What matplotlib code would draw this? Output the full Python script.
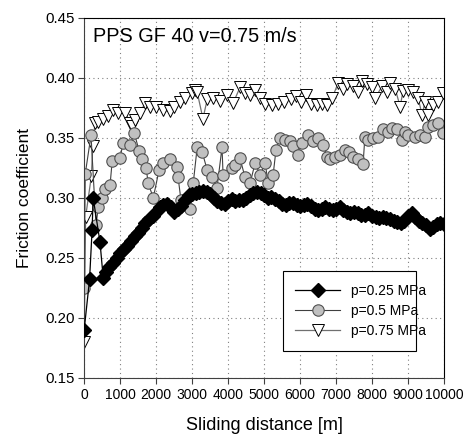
import matplotlib
matplotlib.use("Agg")
import matplotlib.pyplot as plt

plt.rcParams["font.family"] = ["Liberation Sans", "DejaVu Sans"]

# p = 0.25 MPa (black diamonds)
dist_025 = [0, 150, 220, 250, 440, 530, 600, 700, 800, 900, 1000, 1100, 1200, 1300, 1400,
            1500, 1600, 1700, 1800, 1900, 2000, 2100, 2200, 2300, 2400, 2500, 2600, 2700,
            2800, 2900, 3000, 3100, 3200, 3300, 3400, 3500, 3600, 3700, 3800, 3900, 4000,
            4100, 4200, 4300, 4400, 4500, 4600, 4700, 4800, 4900, 5000, 5100, 5200, 5300,
            5400, 5500, 5600, 5700, 5800, 5900, 6000, 6100, 6200, 6300, 6400, 6500, 6600,
            6700, 6800, 6900, 7000, 7100, 7200, 7300, 7400, 7500, 7600, 7700, 7800, 7900,
            8000, 8100, 8200, 8300, 8400, 8500, 8600, 8700, 8800, 8900, 9000, 9100, 9200,
            9300, 9400, 9500, 9600, 9700, 9800, 9900, 10000]
mu_025 = [0.190, 0.232, 0.273, 0.300, 0.263, 0.233, 0.238, 0.242, 0.246, 0.250, 0.254, 0.257,
          0.260, 0.264, 0.268, 0.271, 0.275, 0.279, 0.282, 0.285, 0.288, 0.292, 0.294, 0.295,
          0.292, 0.288, 0.291, 0.293, 0.298, 0.302, 0.303, 0.304, 0.305, 0.306, 0.305, 0.303,
          0.300, 0.297, 0.296, 0.295, 0.297, 0.299, 0.297, 0.298, 0.298, 0.300, 0.302, 0.304,
          0.305, 0.304, 0.302, 0.300, 0.301, 0.299, 0.297, 0.295, 0.294, 0.296, 0.296, 0.294,
          0.293, 0.294, 0.295, 0.293, 0.291, 0.290, 0.291, 0.292, 0.291, 0.290, 0.291, 0.292,
          0.290, 0.288, 0.287, 0.288, 0.287, 0.286, 0.286, 0.287, 0.285, 0.284, 0.283, 0.284,
          0.283, 0.282, 0.281, 0.280, 0.279, 0.281, 0.285, 0.287, 0.284, 0.281, 0.279, 0.277,
          0.274, 0.276, 0.278, 0.279, 0.278]

# p = 0.5 MPa (grey circles)
dist_05 = [0, 30, 190, 330, 390, 500, 580, 720, 780, 1000, 1080, 1280, 1390, 1530, 1610, 1720,
           1780, 1920, 2080, 2190, 2390, 2580, 2610, 2690, 2830, 2940, 3030, 3140, 3280, 3420,
           3560, 3690, 3830, 3860, 4110, 4200, 4330, 4470, 4610, 4750, 4890, 5030, 5110, 5250,
           5330, 5440, 5580, 5720, 5810, 5940, 6060, 6220, 6360, 6500, 6640, 6750, 6830, 6970,
           7110, 7250, 7360, 7470, 7610, 7750, 7800, 7890, 8030, 8170, 8310, 8440, 8560, 8690,
           8830, 8920, 9000, 9190, 9330, 9470, 9560, 9690, 9830, 9970]
mu_05 = [0.225, 0.320, 0.352, 0.277, 0.292, 0.300, 0.307, 0.311, 0.331, 0.333, 0.346, 0.344,
         0.354, 0.339, 0.332, 0.325, 0.312, 0.300, 0.323, 0.329, 0.332, 0.326, 0.317, 0.298,
         0.294, 0.291, 0.312, 0.342, 0.338, 0.323, 0.317, 0.308, 0.342, 0.319, 0.325, 0.327,
         0.333, 0.317, 0.312, 0.329, 0.319, 0.329, 0.312, 0.319, 0.340, 0.350, 0.348, 0.347,
         0.343, 0.336, 0.346, 0.352, 0.347, 0.350, 0.344, 0.334, 0.332, 0.334, 0.336, 0.340,
         0.338, 0.334, 0.332, 0.328, 0.351, 0.348, 0.350, 0.351, 0.357, 0.355, 0.358, 0.357,
         0.348, 0.355, 0.352, 0.351, 0.352, 0.351, 0.359, 0.361, 0.362, 0.354]

# p = 0.75 MPa (white triangles)
dist_075 = [0, 40, 200, 240, 300, 390, 530, 670, 810, 940, 1140, 1280, 1330, 1420, 1560, 1690,
            1830, 2000, 2190, 2390, 2500, 2670, 2810, 3000, 3080, 3140, 3300, 3420, 3580, 3780,
            3970, 4140, 4330, 4470, 4610, 4750, 4890, 5030, 5220, 5390, 5560, 5750, 5890, 6030,
            6170, 6310, 6470, 6610, 6750, 6890, 7060, 7200, 7310, 7470, 7610, 7720, 7860, 8000,
            8080, 8280, 8420, 8500, 8640, 8780, 8860, 9000, 9140, 9280, 9390, 9470, 9560, 9690,
            9830, 9970]
mu_075 = [0.180, 0.284, 0.318, 0.343, 0.362, 0.363, 0.366, 0.368, 0.373, 0.371, 0.371, 0.362,
          0.360, 0.365, 0.371, 0.379, 0.376, 0.376, 0.373, 0.372, 0.376, 0.380, 0.383, 0.387,
          0.390, 0.388, 0.366, 0.382, 0.383, 0.381, 0.386, 0.379, 0.392, 0.387, 0.386, 0.390,
          0.383, 0.378, 0.377, 0.378, 0.380, 0.382, 0.385, 0.380, 0.386, 0.378, 0.377, 0.378,
          0.377, 0.383, 0.396, 0.391, 0.395, 0.393, 0.388, 0.397, 0.395, 0.392, 0.383, 0.393,
          0.388, 0.396, 0.391, 0.376, 0.389, 0.390, 0.388, 0.383, 0.369, 0.380, 0.369, 0.377,
          0.380, 0.387]

x_ticks = [0, 1000, 2000, 3000, 4000, 5000, 6000, 7000, 8000, 9000, 10000]
y_ticks = [0.15, 0.20, 0.25, 0.30, 0.35, 0.40, 0.45]


def main() -> None:
    fig = plt.figure(figsize=(4.65, 4.44), dpi=100)
    ax = fig.add_axes([0.181, 0.149, 0.774, 0.811])

    ax.plot(dist_025, mu_025, marker="D", markersize=7.2, color="black", markerfacecolor="black",
            markeredgecolor="black", linewidth=0.9, label="p=0.25 MPa", zorder=3)
    ax.plot(dist_05, mu_05, marker="o", markersize=8.2, color="#404040", markerfacecolor="#c0c0c0",
            markeredgecolor="#505050", markeredgewidth=0.8, linewidth=0.8, label="p=0.5 MPa", zorder=2)
    ax.plot(dist_075, mu_075, marker="v", markersize=9, color="#707070", markerfacecolor="white",
            markeredgecolor="black", markeredgewidth=0.7, linewidth=0.9, label="p=0.75 MPa", zorder=1)

    ax.set_xlim(0, 10000)
    ax.set_ylim(0.15, 0.45)
    ax.set_xticks(x_ticks)
    ax.set_xticklabels([str(t) for t in x_ticks], fontsize=10)
    ax.set_yticks(y_ticks)
    ax.set_yticklabels([f"{t:.2f}" for t in y_ticks], fontsize=10.8)
    ax.tick_params(direction="out", length=4, width=0.8, color="#404040", pad=3)
    ax.grid(True, linestyle=(0, (1, 3)), color="#808080", linewidth=0.8)
    ax.set_axisbelow(True)
    for side in ("left", "bottom"):
        ax.spines[side].set_color("#404040")
    for side in ("top", "right"):
        ax.spines[side].set_color("black")

    ax.set_xlabel("Sliding distance [m]", fontsize=13, labelpad=11)
    ax.set_ylabel("Friction coefficient", fontsize=12.5, labelpad=9)
    ax.text(0.025, 0.975, "PPS GF 40 v=0.75 m/s", transform=ax.transAxes, fontsize=14.3,
            ha="left", va="top")

    leg = ax.legend(loc="lower left", bbox_to_anchor=(0.533, 0.056, 0.409, 0.224), mode="expand",
                    fontsize=10, frameon=True, fancybox=False, edgecolor="black", framealpha=1,
                    handlelength=3.2, borderpad=0.9, labelspacing=0.45)
    leg.get_frame().set_linewidth(0.8)

    fig.savefig("out.png", dpi=100)
    plt.close(fig)


if __name__ == "__main__":
    main()
